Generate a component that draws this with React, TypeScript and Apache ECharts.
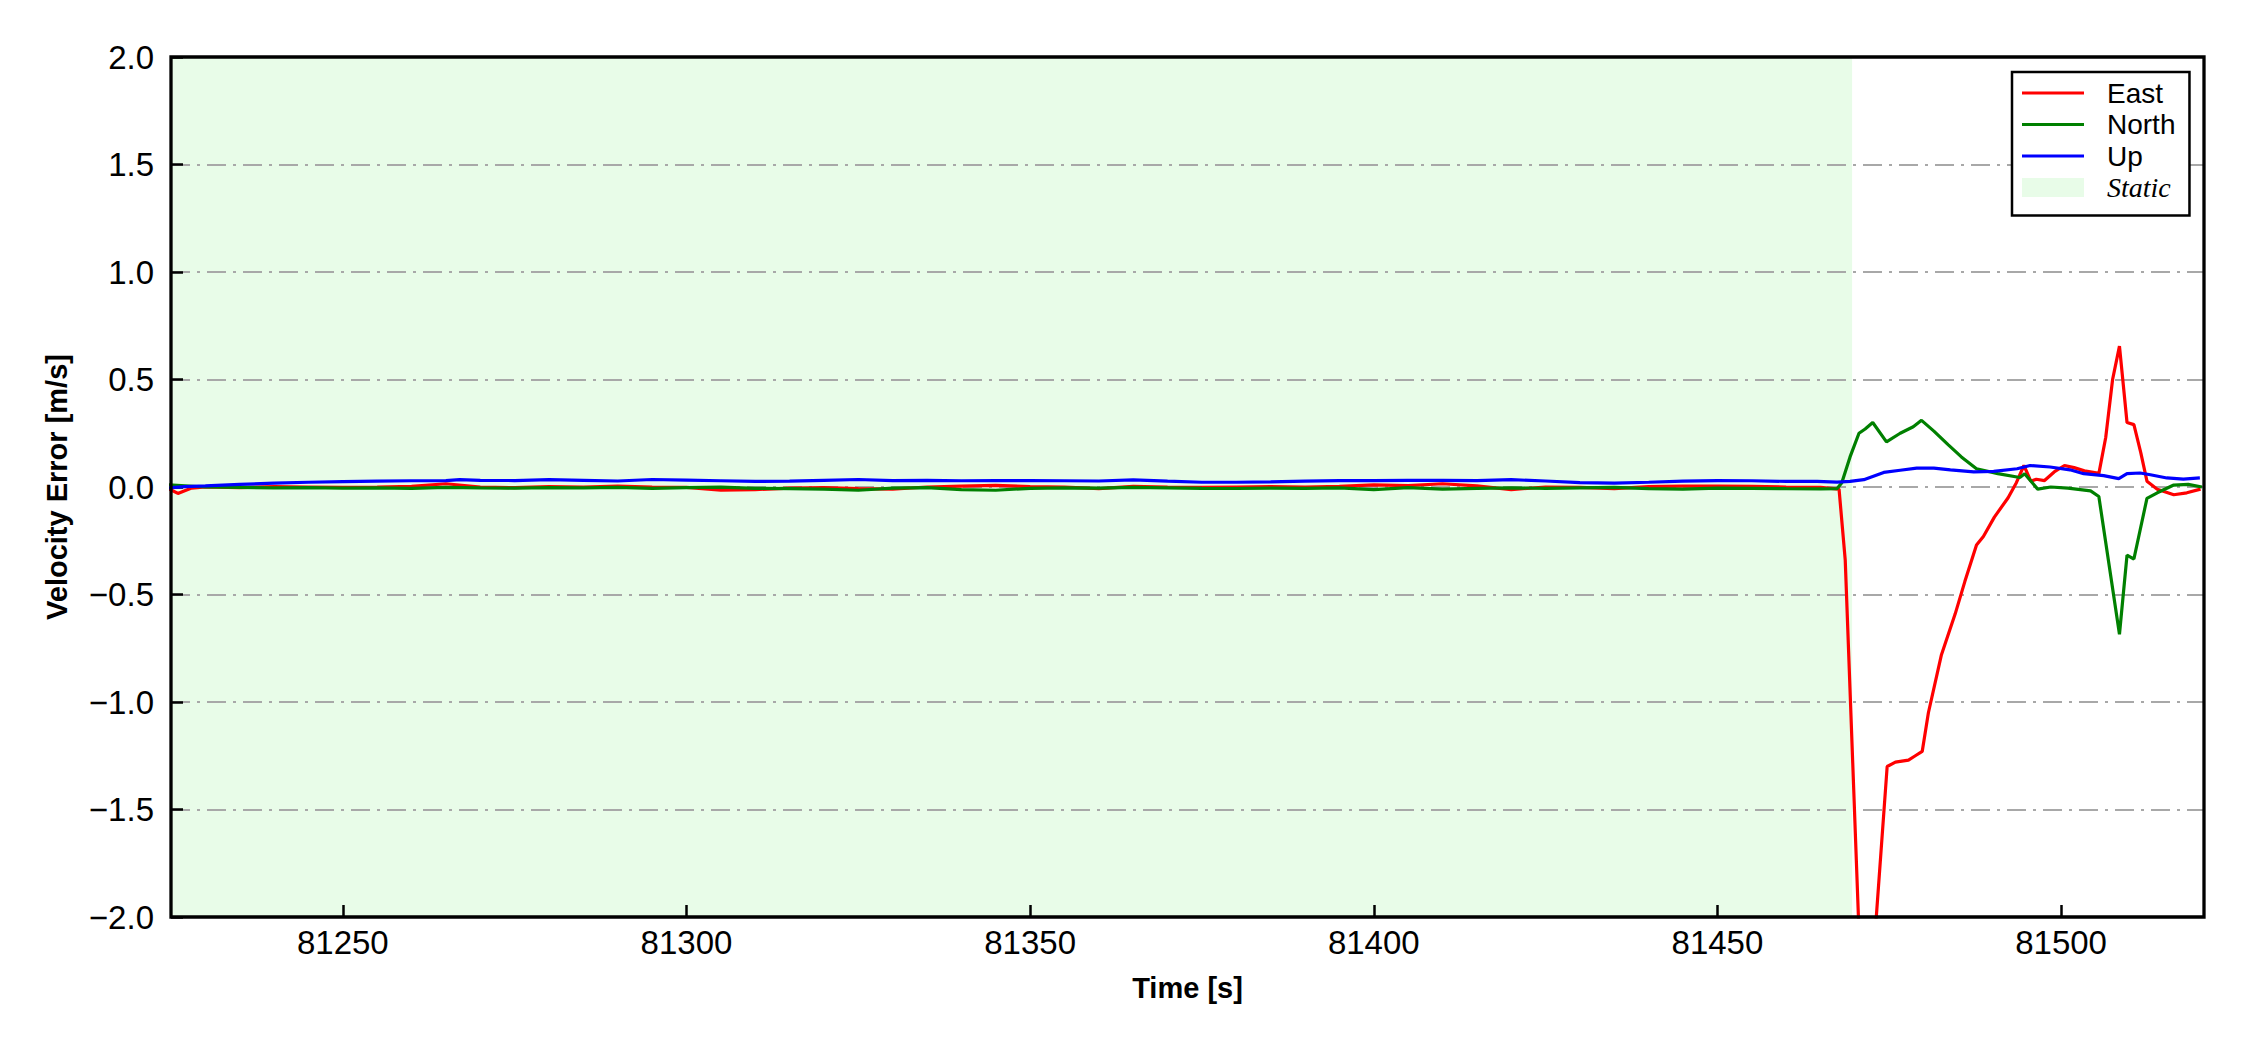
import React, { useEffect, useRef } from "react";
import * as echarts from "echarts";

// ---- data ----
const xTicks = [81250, 81300, 81350, 81400, 81450, 81500];
const xMin = 81225;
const xMax = 81520.8;
const yTicksMin = -2;
const yTicksMax = 2;
const staticStart = 81225;
const staticEnd = 81469.6;

const eastTime = [
  81224.5, 81226, 81228, 81230, 81235, 81240, 81245, 81250, 81255, 81260, 81265, 81270,
  81275, 81280, 81285, 81290, 81295, 81300, 81305, 81310, 81315, 81320, 81325, 81330,
  81335, 81340, 81345, 81350, 81355, 81360, 81365, 81370, 81375, 81380, 81385, 81390,
  81395, 81400, 81405, 81410, 81415, 81420, 81425, 81430, 81435, 81440, 81445, 81450,
  81455, 81460, 81465, 81467.7, 81468.6, 81471.4, 81474.7, 81475.9, 81477.8, 81478.8,
  81479.8, 81480.7, 81482.6, 81484.6, 81486.0, 81487.7, 81488.7, 81490.3, 81492.3,
  81493.5, 81494.6, 81495.6, 81496.4, 81497.6, 81499.0, 81500.5, 81501.9, 81503.4,
  81505.1, 81505.5, 81506.5, 81507.5, 81508.5, 81509.6, 81510.6, 81511.6, 81512.5,
  81514.0, 81516.4, 81518.3, 81520.3,
];
const eastValue = [
  -0.005, -0.03, -0.005, 0.0, -0.003, 0.002, 0.0, -0.002, 0.0, 0.003, 0.015, 0.0,
  -0.003, 0.002, 0.0, 0.004, 0.0, -0.002, -0.015, -0.012, -0.005, -0.003, -0.008, -0.01,
  0.0, 0.004, 0.008, 0.002, 0.0, -0.008, 0.003, 0.0, -0.002, 0.0, 0.002, 0.0,
  0.003, 0.01, 0.006, 0.015, 0.005, -0.012, 0.0, -0.002, -0.008, 0.002, 0.004, 0.004,
  0.003, 0.0, -0.002, -0.01, -0.34, -2.76, -1.3, -1.28, -1.27, -1.25,
  -1.23, -1.05, -0.78, -0.59, -0.44, -0.27, -0.23, -0.14, -0.05,
  0.02, 0.1, 0.027, 0.036, 0.03, 0.07, 0.1, 0.09, 0.075,
  0.066, 0.062, 0.23, 0.5, 0.655, 0.3, 0.29, 0.16, 0.027,
  -0.01, -0.036, -0.027, -0.01,
];

const northTime = [
  81224.5, 81230, 81235, 81240, 81245, 81250, 81255, 81260, 81265, 81270,
  81275, 81280, 81285, 81290, 81295, 81300, 81305, 81310, 81315, 81320, 81325, 81330,
  81335, 81340, 81345, 81350, 81355, 81360, 81365, 81370, 81375, 81380, 81385, 81390,
  81395, 81400, 81405, 81410, 81415, 81420, 81425, 81430, 81435, 81440, 81445, 81450,
  81455, 81460, 81465, 81467.4, 81468.1, 81469.3, 81470.6, 81471.5, 81472.6, 81474.6,
  81476.6, 81478.5, 81479.7, 81481.5, 81483.6, 81485.5, 81487.7, 81490.8, 81494.0,
  81494.7, 81496.6, 81498.5, 81501.0, 81504.3, 81505.5, 81508.5, 81509.6, 81510.6,
  81512.5, 81514.0, 81516.4, 81518.5, 81520.5,
];
const northValue = [
  0.01, 0.0, -0.002, -0.004, -0.003, -0.005, -0.004, -0.006, -0.002, -0.004,
  -0.005, -0.003, -0.004, -0.002, -0.006, -0.003, -0.001, -0.006, -0.008, -0.01, -0.015, -0.005,
  -0.003, -0.012, -0.015, -0.006, -0.004, -0.005, -0.002, -0.004, -0.006, -0.007, -0.005, -0.006,
  -0.004, -0.012, -0.003, -0.01, -0.006, -0.004, -0.006, -0.004, -0.002, -0.008, -0.01, -0.005,
  -0.006, -0.008, -0.009, -0.008, 0.02, 0.14, 0.25, 0.27, 0.3, 0.21,
  0.25, 0.28, 0.31, 0.26, 0.196, 0.14, 0.085, 0.062, 0.044,
  0.062, -0.01, 0.0, -0.005, -0.018, -0.044, -0.685, -0.317, -0.335,
  -0.053, -0.027, 0.009, 0.012, 0.0,
];

const upTime = [
  81224.5, 81227, 81230, 81235, 81240, 81245, 81250, 81255, 81260, 81265, 81267, 81270,
  81275, 81280, 81285, 81290, 81295, 81300, 81305, 81310, 81315, 81320, 81325, 81330,
  81335, 81340, 81345, 81350, 81355, 81360, 81365, 81370, 81375, 81380, 81385, 81390,
  81395, 81400, 81405, 81410, 81415, 81420, 81425, 81430, 81435, 81440, 81445, 81450,
  81455, 81460, 81464.5, 81467.4, 81469.3, 81471.3, 81474.2, 81476.6, 81479.0, 81481.5,
  81483.9, 81487.3, 81490.2, 81493.6, 81495.5, 81498.4, 81501.3, 81503.3, 81506.2,
  81508.4, 81509.6, 81511.5, 81513.0, 81515.4, 81517.8, 81520.2,
];
const upValue = [
  -0.005, 0.002, 0.005, 0.012, 0.018, 0.022, 0.025, 0.027, 0.029, 0.03, 0.034, 0.031,
  0.03, 0.034, 0.031, 0.028, 0.035, 0.032, 0.029, 0.026, 0.027, 0.031, 0.035, 0.03,
  0.031, 0.029, 0.03, 0.03, 0.029, 0.028, 0.033, 0.027, 0.022, 0.022, 0.024, 0.027,
  0.03, 0.03, 0.031, 0.031, 0.03, 0.034, 0.028, 0.02, 0.018, 0.022, 0.027, 0.03,
  0.029, 0.026, 0.026, 0.023, 0.026, 0.034, 0.068, 0.078, 0.088, 0.088,
  0.08, 0.07, 0.073, 0.085, 0.1, 0.093, 0.08, 0.062, 0.053,
  0.039, 0.062, 0.065, 0.057, 0.042, 0.037, 0.042,
];

const seriesNames = ["East", "North", "Up"];
const seriesColors = ["#ff0000", "#008000", "#0000ff"];
const staticName = "Static";
const staticColor = "#e8fce8";

const SANS = "'Liberation Sans', Arial, sans-serif";
const SERIF = "'Liberation Serif', 'Times New Roman', serif";
const LINE_ICON = "path://M0,0 L62,0 L62,3.2 L0,3.2 Z";

const pairs = (t: number[], v: number[]) => t.map((x, i) => [x, v[i]]);

export default function App() {
  const ref = useRef<HTMLDivElement>(null);

  useEffect(() => {
    if (!ref.current) return;
    const chart = echarts.init(ref.current, undefined, { renderer: "svg" });
    const lineData = [
      pairs(eastTime, eastValue),
      pairs(northTime, northValue),
      pairs(upTime, upValue),
    ];

    const fmtY = (v: number) => (v < 0 ? "\u2212" : "") + Math.abs(v).toFixed(1);

    chart.setOption({
      animation: false,
      backgroundColor: "#ffffff",
      grid: {
        left: 171,
        top: 57,
        right: 46,
        bottom: 133,
        show: true,
        z: 6,
        borderColor: "#000",
        borderWidth: 3.3,
        backgroundColor: "transparent",
      },
      legend: {
        orient: "vertical",
        left: 2012,
        top: 72,
        z: 8,
        itemWidth: 62,
        itemHeight: 19,
        itemGap: 3.5,
        symbolKeepAspect: true,
        borderColor: "#000",
        borderWidth: 2.5,
        borderRadius: 0,
        backgroundColor: "#ffffff",
        padding: [7, 14, 14, 10],
        textStyle: {
          fontFamily: SANS,
          fontSize: 28,
          color: "#000",
          padding: [0, 0, 0, 18],
        },
        data: [
          { name: seriesNames[0], icon: LINE_ICON, itemStyle: { color: seriesColors[0] } },
          { name: seriesNames[1], icon: LINE_ICON, itemStyle: { color: seriesColors[1] } },
          { name: seriesNames[2], icon: LINE_ICON, itemStyle: { color: seriesColors[2] } },
          {
            name: staticName,
            icon: "rect",
            itemStyle: { color: staticColor },
            textStyle: { fontFamily: SERIF, fontStyle: "italic", fontSize: 28 },
          },
        ],
      },
      xAxis: {
        type: "value",
        min: xMin,
        max: xMax,
        z: 2,
        name: "Time [s]",
        nameLocation: "middle",
        nameGap: 56,
        nameTextStyle: { fontFamily: SANS, fontSize: 29, fontWeight: "bold", color: "#000" },
        axisLine: { show: false, onZero: false },
        axisTick: {
          show: true,
          inside: true,
          length: 12,
          customValues: xTicks,
          lineStyle: { color: "#000", width: 2.5 },
        },
        axisLabel: {
          customValues: xTicks,
          fontFamily: SANS,
          fontSize: 33,
          color: "#000",
          margin: 9,
          formatter: (v: number) => String(v),
        },
        splitLine: { show: false },
      },
      yAxis: {
        type: "value",
        min: yTicksMin,
        max: yTicksMax,
        interval: 0.5,
        z: 2,
        name: "Velocity Error [m/s]",
        nameLocation: "middle",
        nameGap: 100,
        nameTextStyle: { fontFamily: SANS, fontSize: 29, fontWeight: "bold", color: "#000" },
        axisLine: { show: false, onZero: false },
        axisTick: {
          show: true,
          inside: true,
          length: 12,
          lineStyle: { color: "#000", width: 2.5 },
        },
        axisLabel: {
          fontFamily: SANS,
          fontSize: 33,
          color: "#000",
          margin: 17,
          formatter: fmtY,
        },
        splitLine: {
          show: true,
          lineStyle: { color: "#a8a8a8", width: 2.2, type: [19, 7, 3, 7] },
        },
      },
      series: [
        {
          name: staticName,
          type: "line",
          data: [],
          z: 1,
          silent: true,
          itemStyle: { color: staticColor },
          markArea: {
            silent: true,
            z: 1,
            itemStyle: { color: staticColor, opacity: 1 },
            data: [[{ xAxis: staticStart }, { xAxis: staticEnd }]],
          },
        },
        ...seriesNames.map((name, i) => ({
          name,
          type: "line",
          data: lineData[i],
          z: 3,
          symbol: "none",
          showSymbol: false,
          clip: true,
          color: seriesColors[i],
          lineStyle: { color: seriesColors[i], width: 3.2 },
          itemStyle: { color: seriesColors[i] },
        })),
      ],
    });

    return () => chart.dispose();
  }, []);

  return (
    <div
      ref={ref}
      style={{ position: "absolute", left: 0, top: 0, width: 2250, height: 1050 }}
    />
  );
}
